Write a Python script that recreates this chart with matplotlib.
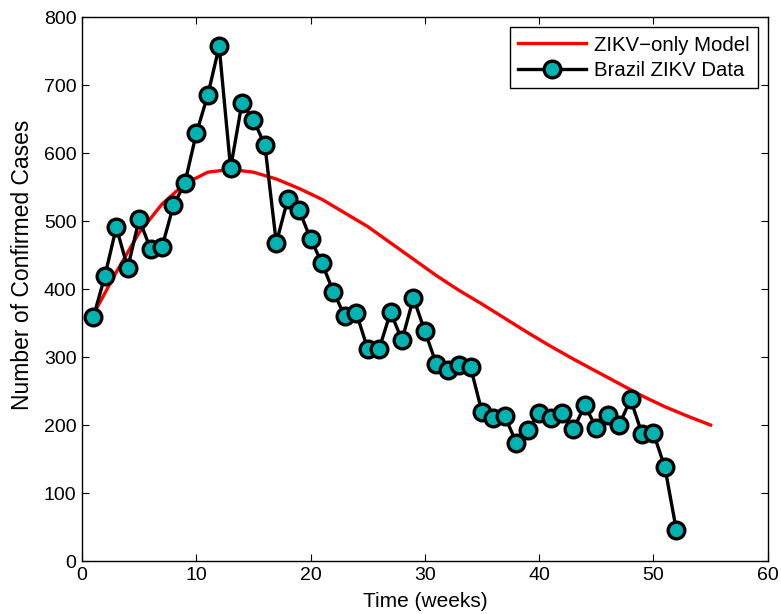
import matplotlib
matplotlib.use("Agg")
import matplotlib.pyplot as plt

# Brazil ZIKV weekly confirmed cases
weeks = list(range(1, 53))
cases = [359, 419, 491, 431, 503, 459, 462, 523, 556, 629,
         685, 757, 578, 674, 649, 612, 468, 532, 516, 474,
         438, 396, 360, 365, 312, 312, 366, 325, 387, 338,
         290, 281, 288, 285, 219, 210, 213, 174, 193, 218,
         210, 218, 194, 229, 196, 215, 200, 238, 187, 188,
         138, 46]

# ZIKV-only model curve
model_t = [1, 3, 5, 7, 9, 11, 13, 15, 17, 19, 21, 23, 25, 27,
           29, 31, 33, 35, 37, 39, 41, 43, 45, 47, 49, 51, 53, 55]
model_y = [363, 425, 483, 525, 555, 572, 576, 572, 562, 548, 532, 512, 492, 468,
           444, 420, 398, 378, 357, 336, 316, 297, 279, 261, 243, 227, 213, 200]

plt.rcParams['font.family'] = ['Liberation Sans', 'DejaVu Sans']

fig = plt.figure(figsize=(7.81, 6.14), dpi=100)
ax = fig.add_axes([0.105, 0.0863, 0.878, 0.8857])

ax.plot(model_t, model_y, color='red', linewidth=2.4, label='ZIKV\u2212only Model')
ax.plot(weeks, cases, color='black', linewidth=2.4, marker='o', markersize=12,
        markerfacecolor='#00b3b3', markeredgecolor='black', markeredgewidth=2.4,
        label='Brazil ZIKV Data')

ax.set_xlim(0, 60)
ax.set_ylim(0, 800)
ax.set_xticks(range(0, 61, 10))
ax.set_yticks(range(0, 801, 100))
ax.tick_params(direction='in', top=True, right=True, labelsize=14, length=5, pad=4)
ax.set_xlabel('Time (weeks)', fontsize=15, labelpad=6)
ax.set_ylabel('Number of Confirmed Cases', fontsize=16.5)
ax.yaxis.set_label_coords(-0.07, 0.545)
for s in ax.spines.values():
    s.set_linewidth(1.0)

leg = ax.legend(loc='upper right', fontsize=14.7, fancybox=False, framealpha=1,
                edgecolor='black', borderaxespad=0.5, handlelength=3.3,
                handletextpad=0.4, labelspacing=0.3, borderpad=0.4)
leg.get_frame().set_linewidth(1.0)

plt.savefig('out.png', dpi=100)
plt.close()
